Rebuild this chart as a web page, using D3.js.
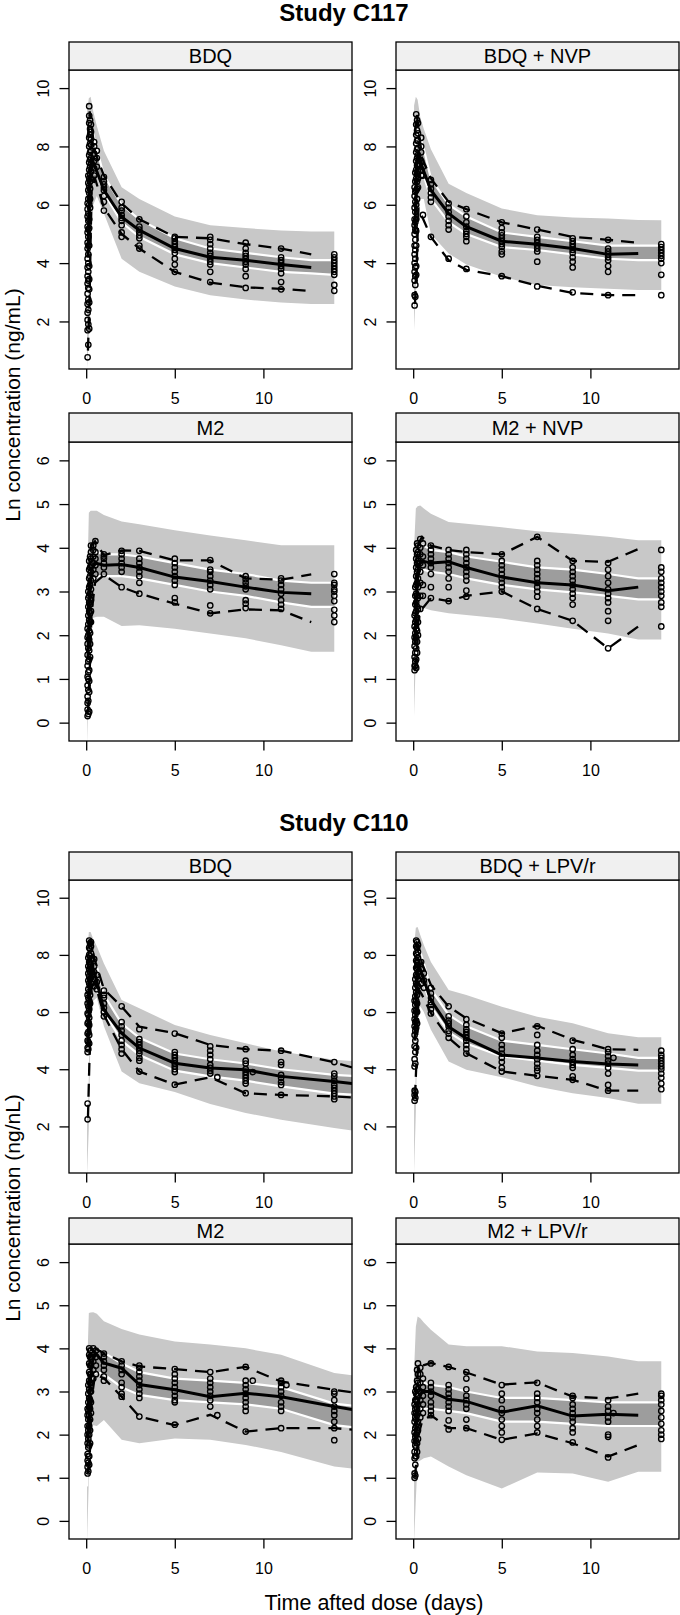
<!DOCTYPE html>
<html><head><meta charset="utf-8">
<script src="https://cdn.jsdelivr.net/npm/d3@7"></script>
<style>body{margin:0;background:#fff} svg{display:block;font-family:"Liberation Sans",Arial,Helvetica,sans-serif}</style>
</head><body><svg id="chart" width="680" height="1615"></svg>
<script>
// ---------------- DATA ----------------
const studyTitles = ["Study C117", "Study C110"];
const panelTitles = ["BDQ", "BDQ + NVP", "M2", "M2 + NVP", "BDQ", "BDQ + LPV/r", "M2", "M2 + LPV/r"];
const yTitles = ["Ln concentration (ng/mL)", "Ln concentration (ng/nL)"];
const xTitle = "Time afted dose (days)";
const xTicks = [0, 5, 10];
const yTicksBDQ = [2, 4, 6, 8, 10];
const yTicksM2 = [0, 1, 2, 3, 4, 5, 6];
const xDomain = [-0.97, 15.0];
const yDomainBDQ = [0.37, 10.62];
const yDomainM2 = [-0.42, 6.42];

// time grids of simulated bands and observed percentile lines
const bandTimes    = [0.05, 0.15, 0.25, 0.4, 0.6, 1, 2, 3, 5, 7, 9, 11, 12.7, 14];
const bandTimesExt = [0.05, 0.15, 0.25, 0.4, 0.6, 1, 2, 3, 5, 7, 9, 11, 14, 15.5];
const obsTimes     = [0.1, 0.2, 0.3, 0.5, 1, 2, 3, 5, 7, 9, 11, 12.7];
const obsTimesExt  = [0.1, 0.2, 0.3, 0.5, 1, 2, 3, 5, 7, 9, 11, 14, 15.5];

// C117 BDQ
const a_piHi  = [9.2, 9.65, 9.7, 9.2, 8.7, 7.85, 6.6, 6.2, 5.6, 5.3, 5.2, 5.12, 5.08, 5.08];
const a_piLo  = [0.4, 1.5, 4.5, 6.0, 6.3, 5.7, 4.15, 3.7, 3.2, 2.9, 2.75, 2.65, 2.6, 2.6];
const a_ciHi  = [5.5, 8.0, 8.5, 8.4, 7.9, 7.0, 6.0, 5.5, 4.85, 4.5, 4.35, 4.2, 4.1, 4.1];
const a_ciLo  = [2.5, 5.5, 6.8, 7.2, 7.1, 6.4, 5.4, 4.9, 4.3, 4.0, 3.85, 3.7, 3.65, 3.6];
const a_med   = [4.2, 7.0, 7.6, 7.3, 6.5, 5.58, 5.13, 4.5, 4.2, 4.1, 3.95, 3.85];
const a_p95   = [8.3, 9.2, 8.7, 7.8, 7.0, 6.05, 5.5, 4.9, 4.85, 4.65, 4.5, 4.3];
const a_p5    = [1.0, 3.0, 6.5, 6.9, 5.9, 5.0, 4.5, 3.7, 3.33, 3.17, 3.12, 3.04];
const a_obs = [
  [0.08, [0.77, 1.7, 2.05, 2.3, 2.6, 2.95, 3.3, 3.55, 3.85, 4.15, 4.5, 4.7, 5.05, 5.25, 5.6, 5.85, 6.05]],
  [0.12, [1.2, 1.9, 2.4, 2.75, 3.15, 3.4, 3.7, 4.0, 4.3, 4.6, 4.9, 5.15, 5.45, 5.7, 6.2, 6.5, 6.75, 7.0]],
  [0.17, [1.75, 2.65, 3.1, 3.45, 3.9, 4.6, 5.2, 5.5, 6.0, 6.4, 6.65, 6.9, 7.2, 7.45, 7.7, 8.0, 8.3, 8.8, 9.05, 9.38]],
  [0.22, [5.9, 6.2, 6.55, 6.8, 7.05, 7.3, 7.55, 7.8, 8.1, 8.4, 8.6, 8.9]],
  [0.27, [6.9, 7.15, 7.4, 7.6, 7.85, 8.05, 8.25, 8.5, 8.75]],
  [0.45, [7.0, 7.25, 7.5, 7.75, 8.0, 8.15]],
  [0.6, [7.3, 7.6, 7.85]],
  [1, [5.8, 6.1, 6.3, 6.5, 6.6, 6.7, 6.8, 6.95]],
  [2, [4.9, 5.05, 5.3, 5.45, 5.55, 5.65, 5.8, 5.9, 6.1]],
  [3, [4.5, 4.6, 4.85, 4.95, 5.05, 5.15, 5.25, 5.5]],
  [5, [3.7, 3.95, 4.15, 4.35, 4.45, 4.55, 4.65, 4.75, 4.85, 4.9]],
  [7, [3.35, 3.7, 3.95, 4.05, 4.15, 4.25, 4.35, 4.5, 4.65, 4.8, 4.9]],
  [9, [3.15, 3.55, 3.8, 3.95, 4.05, 4.15, 4.25, 4.35, 4.5, 4.7]],
  [11, [3.1, 3.35, 3.65, 3.8, 3.9, 4.0, 4.1, 4.2, 4.5]],
  [14, [3.05, 3.25, 3.6, 3.7, 3.8, 3.9, 4.0, 4.1, 4.2, 4.3]]
];

// C117 BDQ + NVP
const b_piHi  = [9.4, 9.7, 9.6, 9.0, 8.6, 7.9, 6.72, 6.4, 5.87, 5.64, 5.56, 5.53, 5.48, 5.47];
const b_piLo  = [1.7, 3.0, 5.5, 6.2, 6.2, 5.0, 4.33, 3.95, 3.53, 3.25, 3.17, 3.12, 3.08, 3.08];
const b_ciHi  = [6.0, 8.2, 8.5, 8.3, 7.9, 6.9, 6.0, 5.6, 5.05, 4.9, 4.75, 4.6, 4.6, 4.6];
const b_ciLo  = [3.5, 6.0, 7.0, 7.1, 7.0, 6.2, 5.4, 5.0, 4.55, 4.45, 4.3, 4.15, 4.1, 4.1];
const b_med   = [5.0, 7.5, 7.8, 7.3, 6.5, 5.7, 5.25, 4.75, 4.65, 4.5, 4.3, 4.33];
const b_p95   = [8.4, 9.1, 8.6, 7.6, 6.9, 6.1, 5.85, 5.4, 5.15, 4.9, 4.8, 4.7];
const b_p5    = [2.6, 4.0, 5.9, 5.6, 4.9, 4.1, 3.77, 3.55, 3.22, 2.98, 2.9, 2.9];
const b_obs = [
  [0.08, [2.55, 2.9, 3.4, 3.7, 4.0, 4.3, 4.6, 5.0, 5.3, 5.5, 5.9, 6.3, 6.6]],
  [0.12, [2.85, 3.25, 3.55, 3.85, 4.15, 4.45, 4.8, 5.15, 5.4, 5.75, 6.1, 6.45, 6.8, 7.1]],
  [0.17, [3.6, 3.9, 4.6, 5.1, 5.5, 6.0, 6.5, 6.9, 7.2, 7.5, 7.8, 8.1, 8.4, 8.75, 9.1]],
  [0.22, [6.2, 6.55, 6.8, 7.05, 7.35, 7.6, 7.9, 8.2, 8.55, 8.9]],
  [0.27, [6.6, 6.9, 7.15, 7.4, 7.7, 7.95, 8.2, 8.45, 8.8]],
  [0.45, [7.0, 7.2, 7.5, 7.8, 8.0, 8.3]],
  [0.55, [5.65, 7.0, 7.3]],
  [1, [4.9, 6.1, 6.25, 6.4, 6.55, 6.7, 6.85]],
  [2, [4.15, 5.15, 5.3, 5.45, 5.6, 5.75, 5.9, 6.05]],
  [3, [3.8, 4.75, 4.9, 5.0, 5.1, 5.25, 5.4, 5.6, 5.85]],
  [5, [3.55, 4.3, 4.4, 4.55, 4.65, 4.75, 4.85, 4.95, 5.05, 5.2, 5.4]],
  [7, [3.2, 4.05, 4.4, 4.5, 4.6, 4.7, 4.8, 4.9, 5.15]],
  [9, [3.0, 3.85, 4.05, 4.2, 4.35, 4.45, 4.55, 4.65, 4.75, 4.85]],
  [11, [2.9, 3.7, 3.9, 4.1, 4.2, 4.3, 4.4, 4.5, 4.8]],
  [14, [2.9, 3.6, 4.0, 4.15, 4.25, 4.35, 4.45, 4.55, 4.65]]
];

// C117 M2
const c_piHi  = [3.0, 4.8, 4.85, 4.85, 4.85, 4.75, 4.6, 4.54, 4.4, 4.28, 4.17, 4.06, 4.06, 4.06];
const c_piLo  = [-0.5, 1.0, 2.35, 2.4, 2.42, 2.42, 2.21, 2.23, 2.15, 2.04, 1.93, 1.77, 1.62, 1.62];
const c_ciHi  = [1.5, 3.3, 3.8, 3.9, 3.9, 3.85, 3.85, 3.8, 3.65, 3.5, 3.4, 3.25, 3.2, 3.2];
const c_ciLo  = [0.2, 2.2, 3.0, 3.3, 3.35, 3.35, 3.35, 3.3, 3.15, 3.0, 2.9, 2.75, 2.65, 2.65];
const c_med   = [1.5, 3.0, 3.5, 3.65, 3.6, 3.62, 3.55, 3.33, 3.23, 3.1, 2.98, 2.95];
const c_p95   = [2.5, 3.8, 4.05, 4.15, 3.83, 3.94, 3.93, 3.71, 3.71, 3.3, 3.27, 3.39];
const c_p5    = [0.25, 1.2, 2.5, 3.2, 3.38, 3.1, 2.95, 2.72, 2.5, 2.59, 2.57, 2.3];
const c_obs = [
  [0.08, [0.15, 0.3, 0.45, 0.6, 0.85, 1.05, 1.3, 1.55, 1.8, 1.95, 2.15]],
  [0.12, [0.2, 0.5, 0.75, 1.0, 1.15, 1.4, 1.7, 2.0, 2.25, 2.45, 2.65, 2.85, 3.0]],
  [0.17, [0.25, 0.7, 0.95, 1.2, 1.45, 1.65, 1.9, 2.1, 2.35, 2.55, 2.75, 2.9, 3.1, 3.3, 3.5, 3.7]],
  [0.22, [1.5, 1.8, 2.05, 2.3, 2.5, 2.7, 2.95, 3.15, 3.35, 3.55, 3.8]],
  [0.27, [2.3, 2.55, 2.8, 3.05, 3.25, 3.45, 3.6, 3.75, 3.9, 4.05]],
  [0.4, [3.3, 3.5, 3.65, 3.8, 3.95, 4.05]],
  [0.52, [3.4, 3.6, 3.75, 3.9, 4.15]],
  [1, [3.4, 3.55, 3.65, 3.75, 3.8, 3.85]],
  [2, [3.1, 3.45, 3.55, 3.65, 3.75, 3.85, 3.93]],
  [3, [2.95, 3.2, 3.35, 3.45, 3.55, 3.65, 3.75, 3.93]],
  [5, [2.75, 2.85, 3.15, 3.25, 3.35, 3.45, 3.55, 3.65, 3.75]],
  [7, [2.5, 2.68, 3.05, 3.15, 3.25, 3.35, 3.45, 3.5, 3.72]],
  [9, [2.62, 2.72, 2.8, 3.05, 3.12, 3.2, 3.28, 3.35]],
  [11, [2.6, 2.7, 2.8, 2.95, 3.05, 3.15, 3.25, 3.3]],
  [14, [2.3, 2.45, 2.58, 2.78, 2.9, 3.0, 3.05, 3.15, 3.2, 3.4]]
];

// C117 M2 + NVP
const d_piHi  = [4.0, 4.9, 4.95, 4.97, 4.9, 4.78, 4.59, 4.55, 4.47, 4.38, 4.32, 4.25, 4.17, 4.17];
const d_piLo  = [0.14, 1.5, 2.6, 2.65, 2.62, 2.57, 2.5, 2.46, 2.38, 2.27, 2.15, 2.04, 1.9, 1.9];
const d_ciHi  = [2.5, 3.6, 3.95, 4.05, 4.05, 3.95, 3.9, 3.8, 3.68, 3.55, 3.5, 3.4, 3.3, 3.3];
const d_ciLo  = [1.3, 2.5, 3.2, 3.45, 3.5, 3.45, 3.4, 3.3, 3.15, 3.05, 2.98, 2.9, 2.82, 2.82];
const d_med   = [1.8, 3.0, 3.6, 3.7, 3.65, 3.68, 3.55, 3.33, 3.2, 3.15, 3.02, 3.1];
const d_p95   = [2.6, 3.9, 4.1, 4.25, 4.05, 3.95, 3.9, 3.85, 4.25, 3.7, 3.68, 3.97];
const d_p5    = [1.2, 1.6, 2.4, 2.6, 2.85, 2.78, 2.9, 3.0, 2.6, 2.33, 1.7, 2.2];
const d_obs = [
  [0.08, [1.2, 1.3, 1.5, 1.75, 1.95, 2.2, 2.45]],
  [0.12, [1.3, 1.4, 1.6, 1.85, 2.05, 2.3, 2.5, 2.7, 2.9, 3.1]],
  [0.17, [1.25, 1.45, 1.7, 1.95, 2.15, 2.35, 2.55, 2.75, 2.95, 3.15, 3.35, 3.55, 3.75, 3.95]],
  [0.22, [1.6, 1.85, 2.1, 2.4, 2.65, 2.9, 3.2, 3.45, 3.65, 3.85, 4.1]],
  [0.27, [2.0, 2.3, 2.6, 2.85, 3.1, 3.3, 3.5, 3.7, 3.9, 4.05]],
  [0.4, [2.6, 2.9, 3.2, 3.45, 3.65, 3.85, 4.0, 4.2]],
  [0.55, [2.9, 3.15, 3.6, 3.8, 4.1]],
  [1, [2.85, 3.1, 3.4, 3.55, 3.65, 3.75, 3.85, 3.95, 4.05]],
  [2, [2.78, 3.1, 3.3, 3.45, 3.55, 3.65, 3.75, 3.85, 3.95]],
  [3, [2.88, 3.02, 3.25, 3.35, 3.45, 3.55, 3.65, 3.75, 3.85, 3.95]],
  [5, [3.0, 3.1, 3.2, 3.3, 3.4, 3.5, 3.6, 3.7, 3.85]],
  [7, [2.6, 2.88, 3.0, 3.1, 3.2, 3.3, 3.4, 3.5, 3.6, 3.7, 4.25]],
  [9, [2.33, 2.7, 2.85, 2.95, 3.05, 3.15, 3.25, 3.35, 3.45, 3.55, 3.7]],
  [11, [1.7, 2.33, 2.55, 2.75, 2.85, 2.95, 3.05, 3.2, 3.35, 3.5, 3.65]],
  [14, [2.2, 2.65, 2.75, 2.9, 3.0, 3.1, 3.2, 3.3, 3.45, 3.55, 3.95]]
];

// C110 BDQ
const e_piHi  = [8.0, 8.8, 8.8, 8.55, 8.3, 7.7, 6.42, 6.13, 5.55, 5.2, 4.91, 4.62, 4.33, 4.27];
const e_piLo  = [0.3, 2.0, 5.5, 6.4, 6.5, 5.5, 3.92, 3.51, 3.2, 2.78, 2.47, 2.23, 1.94, 1.82];
const e_ciHi  = [5.0, 7.8, 8.1, 8.0, 7.6, 6.6, 5.6, 5.1, 4.55, 4.35, 4.2, 4.0, 3.8, 3.75];
const e_ciLo  = [2.5, 6.0, 7.0, 7.1, 6.9, 6.0, 5.0, 4.5, 3.95, 3.75, 3.6, 3.4, 3.15, 3.1];
const e_med   = [4.8, 7.2, 7.7, 7.3, 6.08, 5.26, 4.74, 4.21, 4.04, 3.98, 3.75, 3.57, 3.47];
const e_p95   = [7.5, 8.5, 8.3, 7.8, 6.8, 6.19, 5.49, 5.26, 4.85, 4.7, 4.65, 4.24, 3.98];
const e_p5    = [2.3, 4.7, 6.9, 7.0, 5.9, 4.7, 3.92, 3.46, 3.72, 3.16, 3.1, 3.05, 3.0];
const e_obs = [
  [0.08, [2.25, 2.8, 4.6, 4.75, 5.0, 5.25, 5.6, 5.95, 6.3, 6.6]],
  [0.12, [4.7, 4.95, 5.3, 5.65, 5.9, 6.2, 6.5, 6.8, 7.1, 7.35, 7.6, 7.9]],
  [0.17, [4.9, 5.2, 5.55, 5.8, 6.1, 6.4, 6.7, 7.0, 7.25, 7.5, 7.75, 8.0, 8.25, 8.5]],
  [0.22, [6.3, 6.6, 6.9, 7.15, 7.4, 7.7, 7.95, 8.2, 8.4]],
  [0.27, [7.0, 7.2, 7.45, 7.65, 7.85, 8.05, 8.3, 8.45]],
  [0.45, [6.9, 7.15, 7.4, 7.6, 7.85]],
  [0.6, [6.8, 7.05, 7.3]],
  [1, [5.85, 6.0, 6.15, 6.3, 6.5, 6.6, 6.75]],
  [2, [4.55, 4.7, 4.85, 5.0, 5.2, 5.35, 5.5, 5.65, 6.2]],
  [3, [3.92, 4.3, 4.4, 4.55, 4.65, 4.75, 4.85, 4.95, 5.05, 5.4]],
  [5, [3.46, 3.9, 4.0, 4.1, 4.2, 4.3, 4.4, 4.5, 4.6, 5.25]],
  [7, [3.85, 3.95, 4.05, 4.15, 4.35, 4.5, 4.65, 4.8]],
  [7.4, [3.72]],
  [9, [3.16, 3.5, 3.6, 3.7, 3.8, 3.9, 4.0, 4.2, 4.3, 4.7]],
  [9.4, [3.9]],
  [11, [3.1, 3.45, 3.55, 3.7, 3.8, 4.15, 4.25, 4.65]],
  [14, [2.95, 3.05, 3.15, 3.25, 3.35, 3.45, 3.6, 3.75, 3.85, 4.25]]
];

// C110 BDQ + LPV/r
const f_piHi  = [8.3, 8.95, 8.98, 8.7, 8.35, 7.75, 6.77, 6.6, 6.19, 5.84, 5.61, 5.26, 5.12, 5.12];
const f_piLo  = [0.37, 2.5, 5.8, 6.2, 6.0, 5.38, 4.27, 3.98, 3.72, 3.4, 3.16, 2.99, 2.79, 2.79];
const f_ciHi  = [5.5, 7.9, 8.2, 8.1, 7.7, 6.8, 5.9, 5.5, 5.0, 4.85, 4.7, 4.55, 4.4, 4.4];
const f_ciLo  = [3.0, 6.0, 7.0, 7.1, 7.0, 6.2, 5.3, 4.9, 4.45, 4.3, 4.15, 4.05, 3.95, 3.95];
const f_med   = [5.0, 7.3, 7.7, 7.3, 6.42, 5.49, 5.08, 4.5, 4.39, 4.27, 4.18, 4.15];
const f_p95   = [7.5, 8.4, 8.3, 7.7, 6.95, 6.19, 5.78, 5.26, 5.52, 5.03, 4.7, 4.68];
const f_p5    = [3.0, 4.5, 6.8, 6.6, 5.96, 5.1, 4.56, 3.92, 3.77, 3.63, 3.25, 3.25];
const f_obs = [
  [0.08, [2.9, 3.1, 3.25, 4.1, 4.35, 4.8, 5.2, 5.5, 5.75, 6.05, 6.4]],
  [0.12, [3.0, 3.2, 4.2, 4.6, 5.0, 5.35, 5.65, 5.9, 6.25, 6.55, 6.85, 7.15]],
  [0.17, [4.75, 5.45, 5.7, 6.05, 6.4, 6.7, 7.0, 7.3, 7.55, 7.8, 8.05, 8.3, 8.5]],
  [0.22, [5.6, 6.0, 6.3, 6.6, 6.95, 7.25, 7.5, 7.75, 8.0, 8.25, 8.45]],
  [0.27, [6.9, 7.15, 7.4, 7.65, 7.9, 8.1, 8.35]],
  [0.45, [7.0, 7.25, 7.5, 7.75]],
  [0.6, [6.85, 7.1, 7.35]],
  [1, [5.95, 6.1, 6.25, 6.35, 6.5, 6.65, 6.85]],
  [2, [5.1, 5.25, 5.35, 5.5, 5.6, 5.7, 5.85, 6.2]],
  [3, [4.55, 4.7, 4.85, 5.0, 5.1, 5.2, 5.3, 5.4, 5.55, 5.75]],
  [5, [3.92, 4.05, 4.25, 4.4, 4.55, 4.7, 4.85, 5.1, 5.25]],
  [7, [3.77, 3.95, 4.05, 4.2, 4.35, 4.5, 4.65, 4.85, 5.2, 5.5]],
  [9, [3.63, 3.75, 4.05, 4.15, 4.25, 4.35, 4.5, 4.7, 5.0]],
  [11, [3.25, 3.45, 3.85, 4.05, 4.2, 4.3, 4.45, 4.6, 4.7]],
  [11.3, [4.4]],
  [14, [3.3, 3.5, 3.7, 3.85, 4.0, 4.1, 4.2, 4.3, 4.4, 4.5, 4.65]]
];

// C110 M2
const g_piHi  = [3.5, 4.82, 4.83, 4.84, 4.8, 4.63, 4.45, 4.32, 4.16, 4.09, 4.0, 3.85, 3.43, 3.35];
const g_piLo  = [-0.5, 1.0, 2.2, 2.22, 2.2, 2.34, 1.88, 1.8, 1.91, 1.88, 1.76, 1.6, 1.26, 1.19];
const g_ciHi  = [2.0, 3.4, 3.85, 4.0, 4.0, 3.9, 3.65, 3.45, 3.3, 3.25, 3.2, 3.1, 2.72, 2.65];
const g_ciLo  = [0.8, 2.3, 3.1, 3.4, 3.45, 3.4, 3.1, 2.92, 2.8, 2.75, 2.7, 2.6, 2.22, 2.15];
const g_med   = [1.8, 3.0, 3.6, 3.9, 3.66, 3.54, 3.16, 3.04, 2.88, 2.96, 2.88, 2.65, 2.55];
const g_p95   = [2.6, 3.8, 4.0, 4.0, 3.89, 3.7, 3.58, 3.52, 3.45, 3.57, 3.23, 3.04, 2.95];
const g_p5    = [1.1, 1.5, 2.8, 3.4, 3.31, 2.88, 2.42, 2.22, 2.46, 2.07, 2.15, 2.15, 2.1];
const g_obs = [
  [0.08, [1.1, 1.25, 1.4, 1.55, 1.8, 2.0, 2.2, 2.45, 2.6]],
  [0.12, [1.15, 1.35, 1.5, 1.7, 1.9, 2.1, 2.35, 2.55, 2.75, 2.95, 3.15]],
  [0.17, [1.3, 1.5, 1.75, 2.0, 2.2, 2.45, 2.65, 2.85, 3.05, 3.25, 3.45, 3.65, 3.85, 4.0]],
  [0.22, [1.8, 2.1, 2.35, 2.6, 2.8, 3.0, 3.2, 3.4, 3.6, 3.8, 3.95]],
  [0.27, [2.5, 2.75, 3.0, 3.2, 3.4, 3.6, 3.8, 3.95]],
  [0.4, [3.3, 3.5, 3.7, 3.85, 4.0]],
  [0.55, [3.4, 3.6, 3.8, 3.95]],
  [1, [3.25, 3.35, 3.5, 3.6, 3.7, 3.8, 3.88]],
  [2, [2.88, 2.95, 3.1, 3.2, 3.4, 3.5, 3.6, 3.7]],
  [3, [2.42, 2.85, 2.95, 3.05, 3.15, 3.25, 3.35, 3.45, 3.55, 3.6]],
  [5, [2.23, 2.75, 2.8, 2.9, 3.0, 3.1, 3.2, 3.3, 3.4, 3.52]],
  [7, [2.65, 2.8, 2.9, 3.0, 3.1, 3.2, 3.3, 3.45]],
  [7.4, [2.45]],
  [9, [2.07, 2.55, 2.65, 2.75, 2.85, 2.95, 3.05, 3.15, 3.25, 3.57]],
  [9.4, [3.25]],
  [11, [2.15, 2.55, 2.65, 2.75, 2.9, 3.0, 3.1, 3.2, 3.25]],
  [11.3, [3.15]],
  [14, [1.87, 2.15, 2.3, 2.45, 2.55, 2.65, 2.8, 2.95, 3.0]]
];

// C110 M2 + LPV/r
const h_piHi  = [3.5, 4.5, 4.74, 4.7, 4.6, 4.43, 4.09, 4.05, 4.05, 3.93, 3.89, 3.81, 3.7, 3.7];
const h_piLo  = [-0.5, 0.5, 1.37, 1.4, 1.45, 1.49, 1.26, 1.06, 0.75, 1.12, 1.1, 0.91, 1.14, 1.14];
const h_ciHi  = [1.8, 2.8, 3.1, 3.2, 3.2, 3.15, 3.1, 3.0, 2.85, 2.85, 2.8, 2.75, 2.75, 2.75];
const h_ciLo  = [1.0, 2.0, 2.5, 2.6, 2.6, 2.6, 2.55, 2.5, 2.3, 2.3, 2.25, 2.2, 2.2, 2.2];
const h_med   = [1.8, 2.5, 2.8, 3.0, 3.0, 2.82, 2.77, 2.52, 2.67, 2.43, 2.47, 2.45];
const h_p95   = [2.8, 3.2, 3.65, 3.6, 3.66, 3.57, 3.44, 3.16, 3.21, 2.88, 2.84, 2.95];
const h_p5    = [1.0, 1.5, 2.0, 2.3, 2.45, 2.15, 2.15, 1.88, 2.03, 1.8, 1.49, 1.76];
const h_obs = [
  [0.08, [1.0, 1.1, 1.45, 1.6, 1.85, 2.05, 2.3, 2.5, 2.7]],
  [0.12, [1.05, 1.3, 1.5, 1.75, 1.95, 2.15, 2.4, 2.6, 2.8, 3.0]],
  [0.17, [1.5, 1.7, 1.85, 2.0, 2.2, 2.35, 2.5, 2.65, 2.8, 2.95, 3.1]],
  [0.22, [1.6, 1.8, 2.05, 2.25, 2.45, 2.6, 2.75, 2.9, 3.05, 3.25, 3.5]],
  [0.27, [1.9, 2.1, 2.3, 2.5, 2.7, 2.9, 3.05, 3.2, 3.4, 3.65]],
  [0.4, [2.4, 2.6, 2.8, 3.0, 3.2, 3.4, 3.55]],
  [0.55, [2.5, 2.7, 2.9, 3.1, 3.3]],
  [1, [2.45, 2.55, 2.65, 2.75, 2.9, 3.0, 3.1, 3.2, 3.65]],
  [2, [2.12, 2.33, 2.55, 2.65, 2.75, 2.85, 2.95, 3.05, 3.15, 3.57]],
  [3, [2.15, 2.35, 2.6, 2.7, 2.8, 2.9, 3.05, 3.3, 3.45]],
  [5, [1.88, 2.05, 2.2, 2.35, 2.5, 2.6, 2.8, 2.95, 3.15]],
  [7, [2.05, 2.2, 2.35, 2.5, 2.6, 2.75, 2.85, 2.95, 3.2]],
  [9, [1.82, 2.05, 2.15, 2.3, 2.4, 2.5, 2.6, 2.7, 2.85, 2.9]],
  [11, [1.47, 1.95, 2.0, 2.3, 2.4, 2.55, 2.65, 2.8]],
  [11.3, [2.5]],
  [14, [1.9, 2.0, 2.1, 2.25, 2.4, 2.55, 2.7, 2.8, 2.9, 2.95]]
];

// ---------------- LAYOUT ----------------
const W = 680, H = 1615;
const cols = [{x0: 69, x1: 352}, {x0: 396, x1: 679}];
const rows = [
  {stripTop: 42, plotTop: 70, plotBottom: 369},
  {stripTop: 413, plotTop: 442, plotBottom: 741},
  {stripTop: 852, plotTop: 880, plotBottom: 1173},
  {stripTop: 1218, plotTop: 1244, plotBottom: 1539}
];
const C_PI = "#c8c8c8", C_CI = "#9d9d9d", C_STRIP = "#f0f0f0";

const panels = [
  {title: panelTitles[0], row: 0, col: 0, bt: bandTimes, ot: obsTimes, piHi: a_piHi, piLo: a_piLo, ciHi: a_ciHi, ciLo: a_ciLo, med: a_med, p95: a_p95, p5: a_p5, obs: a_obs},
  {title: panelTitles[1], row: 0, col: 1, bt: bandTimes, ot: obsTimes, piHi: b_piHi, piLo: b_piLo, ciHi: b_ciHi, ciLo: b_ciLo, med: b_med, p95: b_p95, p5: b_p5, obs: b_obs},
  {title: panelTitles[2], row: 1, col: 0, bt: bandTimes, ot: obsTimes, piHi: c_piHi, piLo: c_piLo, ciHi: c_ciHi, ciLo: c_ciLo, med: c_med, p95: c_p95, p5: c_p5, obs: c_obs},
  {title: panelTitles[3], row: 1, col: 1, bt: bandTimes, ot: obsTimes, piHi: d_piHi, piLo: d_piLo, ciHi: d_ciHi, ciLo: d_ciLo, med: d_med, p95: d_p95, p5: d_p5, obs: d_obs},
  {title: panelTitles[4], row: 2, col: 0, bt: bandTimesExt, ot: obsTimesExt, piHi: e_piHi, piLo: e_piLo, ciHi: e_ciHi, ciLo: e_ciLo, med: e_med, p95: e_p95, p5: e_p5, obs: e_obs},
  {title: panelTitles[5], row: 2, col: 1, bt: bandTimes, ot: obsTimes, piHi: f_piHi, piLo: f_piLo, ciHi: f_ciHi, ciLo: f_ciLo, med: f_med, p95: f_p95, p5: f_p5, obs: f_obs},
  {title: panelTitles[6], row: 3, col: 0, bt: bandTimesExt, ot: obsTimesExt, piHi: g_piHi, piLo: g_piLo, ciHi: g_ciHi, ciLo: g_ciLo, med: g_med, p95: g_p95, p5: g_p5, obs: g_obs},
  {title: panelTitles[7], row: 3, col: 1, bt: bandTimes, ot: obsTimes, piHi: h_piHi, piLo: h_piLo, ciHi: h_ciHi, ciLo: h_ciLo, med: h_med, p95: h_p95, p5: h_p5, obs: h_obs}
];

const svg = d3.select("#chart");
svg.append("rect").attr("width", W).attr("height", H).attr("fill", "#fff");

panels.forEach((p, i) => {
  const r = rows[p.row], c = cols[p.col];
  const isBDQ = p.row % 2 === 0;
  const x = d3.scaleLinear().domain(xDomain).range([c.x0, c.x1]);
  const y = d3.scaleLinear().domain(isBDQ ? yDomainBDQ : yDomainM2).range([r.plotBottom, r.plotTop]);
  const g = svg.append("g");
  const clipId = "clip" + i;
  svg.append("clipPath").attr("id", clipId).append("rect")
    .attr("x", c.x0).attr("y", r.plotTop).attr("width", c.x1 - c.x0).attr("height", r.plotBottom - r.plotTop);
  const pg = g.append("g").attr("clip-path", `url(#${clipId})`);

  const band = (lo, hi) => p.bt.map((t, k) => ({t, lo: lo[k], hi: hi[k]}));
  const area = d3.area().x(d => x(d.t)).y0(d => y(d.lo)).y1(d => y(d.hi));
  const lineBy = key => d3.line().x(d => x(d.t)).y(d => y(d[key]));

  pg.append("path").datum(band(p.piLo, p.piHi)).attr("d", area).attr("fill", C_PI);
  const ci = band(p.ciLo, p.ciHi);
  pg.append("path").datum(ci).attr("d", area).attr("fill", C_CI);
  ["lo", "hi"].forEach(k => pg.append("path").datum(ci).attr("d", lineBy(k))
    .attr("fill", "none").attr("stroke", "#fff").attr("stroke-width", 2.2));

  const obsLine = vals => p.ot.map((t, k) => ({t, v: vals[k]}));
  const vline = d3.line().x(d => x(d.t)).y(d => y(d.v));
  [p.p95, p.p5].forEach(vals => pg.append("path").datum(obsLine(vals)).attr("d", vline)
    .attr("fill", "none").attr("stroke", "#000").attr("stroke-width", 2.3)
    .attr("stroke-dasharray", "13,8"));
  pg.append("path").datum(obsLine(p.med)).attr("d", vline)
    .attr("fill", "none").attr("stroke", "#000").attr("stroke-width", 3);

  const pts = [];
  p.obs.forEach(([t, vals]) => vals.forEach(v => pts.push({t, v})));
  pg.selectAll("circle.pt").data(pts).enter().append("circle")
    .attr("cx", d => x(d.t)).attr("cy", d => y(d.v)).attr("r", 2.7)
    .attr("fill", "none").attr("stroke", "#000").attr("stroke-width", 1.35);

  // frame
  g.append("rect").attr("x", c.x0).attr("y", r.plotTop).attr("width", c.x1 - c.x0)
    .attr("height", r.plotBottom - r.plotTop).attr("fill", "none").attr("stroke", "#000").attr("stroke-width", 1.3);
  // strip
  g.append("rect").attr("x", c.x0).attr("y", r.stripTop).attr("width", c.x1 - c.x0)
    .attr("height", r.plotTop - r.stripTop).attr("fill", C_STRIP).attr("stroke", "#000").attr("stroke-width", 1.3);
  g.append("text").attr("x", (c.x0 + c.x1) / 2).attr("y", (r.stripTop + r.plotTop) / 2 + 7)
    .attr("text-anchor", "middle").attr("font-size", 20).attr("fill", "#000").text(p.title);

  // x axis
  const xa = g.append("g").attr("transform", `translate(0,${r.plotBottom})`)
    .call(d3.axisBottom(x).tickValues(xTicks).tickSize(9.5).tickPadding(14).tickFormat(d3.format("d")));
  xa.select(".domain").remove();
  xa.selectAll("line").attr("stroke-width", 1.3);
  xa.selectAll("text").attr("font-size", 16).attr("font-family", null);
  // y axis
  const ya = g.append("g").attr("transform", `translate(${c.x0},0)`)
    .call(d3.axisLeft(y).tickValues(isBDQ ? yTicksBDQ : yTicksM2).tickSize(9.5).tickFormat(d3.format("d")));
  ya.select(".domain").remove();
  ya.selectAll("line").attr("stroke-width", 1.3);
  ya.selectAll("text").attr("font-size", 16).attr("font-family", null)
    .attr("x", 0).attr("dy", 0).attr("text-anchor", "middle")
    .attr("transform", "translate(-20.5,0) rotate(-90)");
});

// titles
const titleY = [20.5, 830.5];
studyTitles.forEach((t, k) => svg.append("text").attr("x", 344).attr("y", titleY[k])
  .attr("text-anchor", "middle").attr("font-size", 24).attr("font-weight", "bold").text(t));
const yTitleCenter = [405, 1208];
yTitles.forEach((t, k) => svg.append("text")
  .attr("transform", `translate(19.5,${yTitleCenter[k]}) rotate(-90)`)
  .attr("text-anchor", "middle").attr("font-size", 21).text(t));
svg.append("text").attr("x", 374).attr("y", 1610).attr("text-anchor", "middle")
  .attr("font-size", 21.5).text(xTitle);
</script></body></html>
